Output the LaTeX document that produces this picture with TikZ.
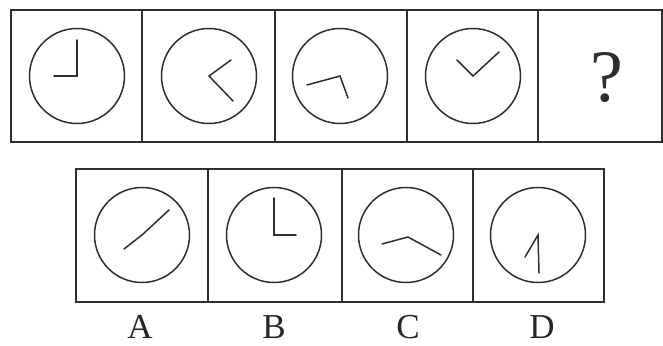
\documentclass[tikz,border=0pt]{standalone}
\usepackage{fontspec}
\setmainfont{Liberation Serif}
\usetikzlibrary{calc}
\begin{document}
\begin{tikzpicture}[x=1pt,y=-1pt,
  ink/.style={draw=black!82},
  cellbox/.style={ink, line width=1.7pt, rectangle, inner sep=0pt},
  clock/.style={ink, line width=1.5pt, circle, minimum size=95pt, inner sep=0pt},
  hand/.style={draw=black!82, line width=1.5pt, line cap=round, line join=miter},
  lbl/.style={inner sep=0pt, text=black!85, font=\fontsize{35}{35}\selectfont}
]
\useasboundingbox (0,0) rectangle (663,345);
% top row cells
\node[cellbox, minimum width=131pt, minimum height=132pt] (t1) at (76.5,76) {};
\node[cellbox, minimum width=133pt, minimum height=132pt] (t2) at (208.5,76) {};
\node[cellbox, minimum width=132pt, minimum height=132pt] (t3) at (341,76) {};
\node[cellbox, minimum width=131pt, minimum height=132pt] (t4) at (472.5,76) {};
\node[cellbox, minimum width=124pt, minimum height=132pt] (t5) at (600,76) {};
% top clocks
\node[clock] (c1) at (77,76) {};
\node[clock] (c2) at (209,76) {};
\node[clock] (c3) at (340,76) {};
\node[clock] (c4) at (473,76) {};
\draw[hand] ($(c1.center)+(0,-36)$) -- (c1.center) -- ++(-23,0);
\draw[hand] ($(c2.center)+(22,-16)$) -- (c2.center) -- ++(24,25);
\draw[hand] ($(c3.center)+(-33,9)$) -- (c3.center) -- ++(8,22);
\draw[hand] ($(c4.center)+(-16,-16)$) -- (c4.center) -- ++(26,-24);
\node[inner sep=0pt, text=black!82, font=\fontsize{74}{74}\selectfont] (q) at (607,78) {?};
% bottom row cells
\node[cellbox, minimum width=132pt, minimum height=133pt] (b1) at (142,235.5) {};
\node[cellbox, minimum width=134pt, minimum height=133pt] (b2) at (275,235.5) {};
\node[cellbox, minimum width=131pt, minimum height=133pt] (b3) at (407.5,235.5) {};
\node[cellbox, minimum width=131pt, minimum height=133pt] (b4) at (538.5,235.5) {};
% bottom clocks
\node[clock] (oa) at (142,235) {};
\node[clock] (ob) at (274,235) {};
\node[clock] (oc) at (406,235) {};
\node[clock] (od) at (538,235) {};
\draw[hand] ($(oa.center)+(-18,14)$) -- (oa.center) -- ++(27,-25);
\draw[hand] ($(ob.center)+(0,-37)$) -- (ob.center) -- ++(22,0);
\draw[hand] ($(oc.center)+(-24,9)$) -- ($(oc.center)+(2,2)$) -- ++(33,18);
\draw[hand] ($(od.center)+(-13,22)$) -- (od.center) -- ++(1,38);
% labels
\node[lbl] (la) at (140,327) {A};
\node[lbl] (lb) at (274,327) {B};
\node[lbl] (lc) at (408,327) {C};
\node[lbl] (ld) at (542,327) {D};
\end{tikzpicture}
\end{document}
